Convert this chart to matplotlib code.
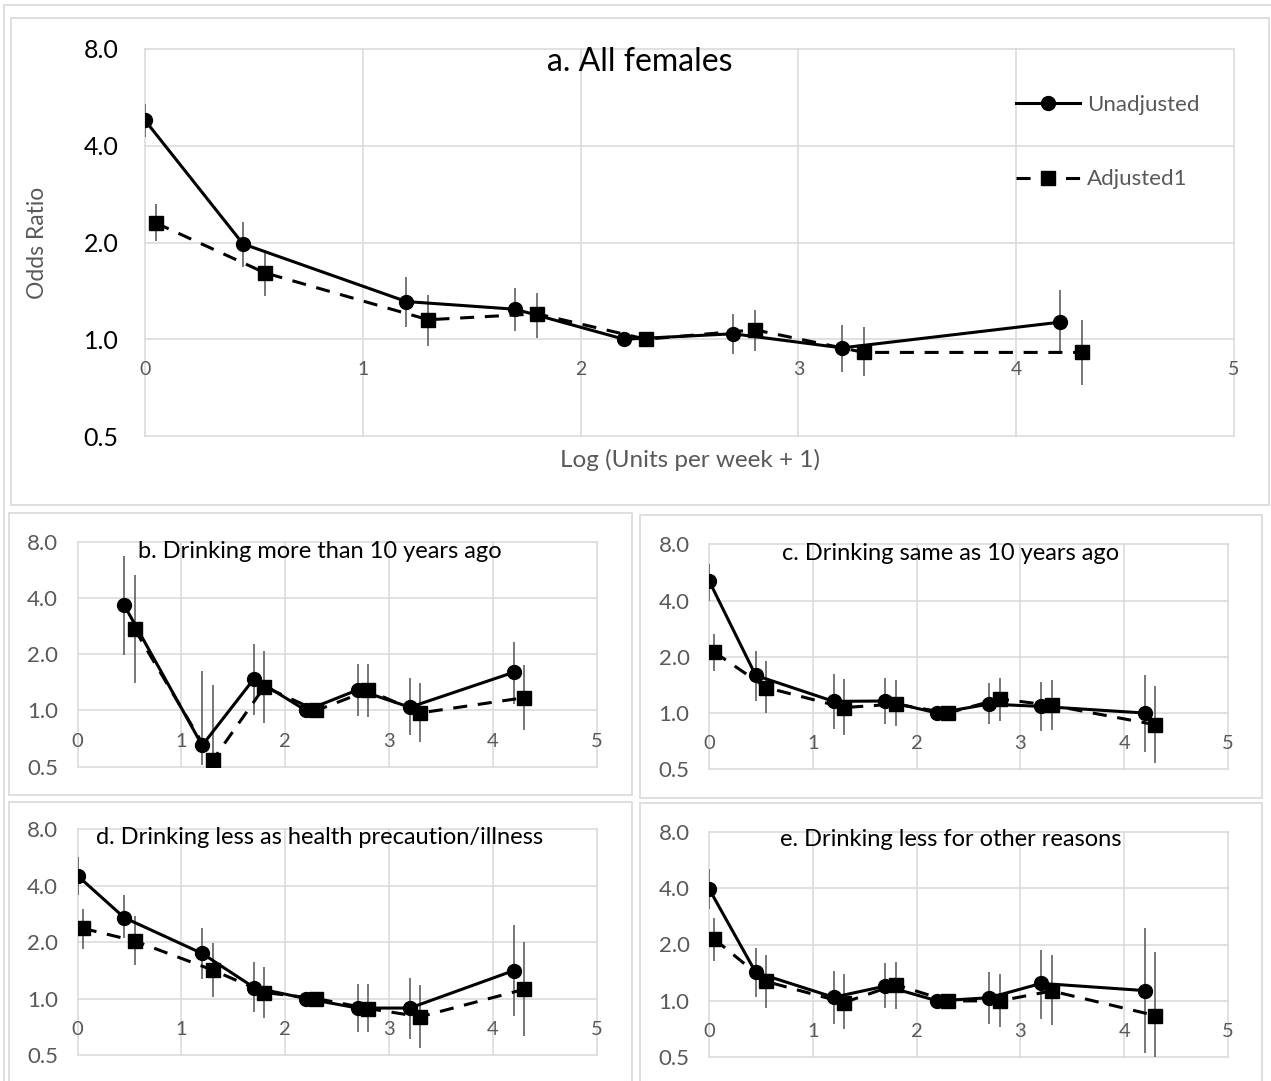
import numpy as np
import matplotlib
matplotlib.use("Agg")
import matplotlib.pyplot as plt
import matplotlib.ticker as mticker
from matplotlib.patches import Rectangle

plt.rcParams["font.family"] = ["Lato", "DejaVu Sans"]

W, H = 1271, 1081
GREY_TEXT = "#595959"
GRID = "#d9d9d9"
BAR = "#606060"

# x positions (log units per week + 1), adjusted series is offset a little
x_unadj = [0, 0.45, 1.2, 1.7, 2.2, 2.7, 3.2, 4.2]
x_adj = [0.05, 0.55, 1.3, 1.8, 2.3, 2.8, 3.3, 4.3]
y_ticks = [0.5, 1.0, 2.0, 4.0, 8.0]
x_ticks = [0, 1, 2, 3, 4, 5]

# a. All females
a_unadj = [4.8, 1.98, 1.31, 1.24, 1.0, 1.04, 0.94, 1.13]
a_unadj_lo = [4.27, 1.68, 1.09, 1.06, 1.0, 0.90, 0.79, 0.905]
a_unadj_hi = [5.4, 2.32, 1.56, 1.44, 1.0, 1.20, 1.11, 1.42]
a_adj = [2.30, 1.61, 1.15, 1.20, 1.0, 1.07, 0.91, 0.91]
a_adj_lo = [2.02, 1.36, 0.95, 1.01, 1.0, 0.92, 0.77, 0.72]
a_adj_hi = [2.64, 1.90, 1.37, 1.39, 1.0, 1.23, 1.09, 1.15]

# b. Drinking more than 10 years ago (no non-drinker point)
b_unadj = [np.nan, 3.65, 0.65, 1.48, 1.0, 1.29, 1.04, 1.60]
b_unadj_lo = [np.nan, 1.97, 0.51, 0.94, 1.0, 0.93, 0.735, 1.08]
b_unadj_hi = [np.nan, 6.67, 1.62, 2.27, 1.0, 1.78, 1.49, 2.33]
b_adj = [np.nan, 2.72, 0.54, 1.34, 1.0, 1.28, 0.97, 1.17]
b_adj_lo = [np.nan, 1.41, 0.45, 0.855, 1.0, 0.917, 0.68, 0.79]
b_adj_hi = [np.nan, 5.28, 1.36, 2.09, 1.0, 1.77, 1.40, 1.76]

# c. Drinking same as 10 years ago
c_unadj = [5.11, 1.59, 1.155, 1.16, 1.0, 1.117, 1.085, 1.0]
c_unadj_lo = [3.96, 1.16, 0.825, 0.873, 1.0, 0.873, 0.80, 0.62]
c_unadj_hi = [6.27, 2.16, 1.62, 1.54, 1.0, 1.45, 1.46, 1.60]
c_adj = [2.12, 1.37, 1.07, 1.117, 1.0, 1.19, 1.10, 0.866]
c_adj_lo = [1.67, 1.0, 0.765, 0.85, 1.0, 0.91, 0.81, 0.54]
c_adj_hi = [2.66, 1.90, 1.53, 1.51, 1.0, 1.54, 1.50, 1.39]

# d. Drinking less as health precaution/illness
d_unadj = [4.52, 2.70, 1.74, 1.145, 1.0, 0.89, 0.89, 1.41]
d_unadj_lo = [3.59, 2.11, 1.27, 0.85, 1.0, 0.66, 0.61, 0.81]
d_unadj_hi = [5.71, 3.57, 2.37, 1.56, 1.0, 1.2, 1.28, 2.47]
d_adj = [2.37, 2.03, 1.42, 1.077, 1.0, 0.885, 0.80, 1.12]
d_adj_lo = [1.83, 1.51, 1.02, 0.79, 1.0, 0.66, 0.545, 0.63]
d_adj_hi = [3.0, 2.77, 1.97, 1.48, 1.0, 1.2, 1.18, 2.0]

# e. Drinking less for other reasons
e_unadj = [3.97, 1.42, 1.046, 1.20, 1.0, 1.04, 1.24, 1.135]
e_unadj_lo = [3.10, 1.05, 0.75, 0.915, 1.0, 0.75, 0.80, 0.525]
e_unadj_hi = [5.08, 1.91, 1.45, 1.59, 1.0, 1.42, 1.86, 2.44]
e_adj = [2.14, 1.27, 0.98, 1.22, 1.0, 1.0, 1.13, 0.835]
e_adj_lo = [1.64, 0.92, 0.71, 0.906, 1.0, 0.73, 0.74, 0.45]
e_adj_hi = [2.77, 1.75, 1.39, 1.62, 1.0, 1.39, 1.75, 1.83]


def px_axes(x0, x1, y0, y1):
    # pixel box (top-left origin) -> figure fraction rect
    return [x0 / W, 1 - y1 / H, (x1 - x0) / W, (y1 - y0) / H]


def px_frame(fig, x0, y0, x1, y1):
    fig.add_artist(
        Rectangle(
            (x0 / W, 1 - y1 / H), (x1 - x0) / W, (y1 - y0) / H,
            transform=fig.transFigure, fill=False, edgecolor=GRID, lw=1.2,
        )
    )


def plot_series(ax, x, y, lo, hi, marker, dashed, label):
    y = np.array(y, dtype=float)
    err = [y - np.array(lo), np.array(hi) - y]
    ax.errorbar(x, y, yerr=err, fmt="none", ecolor=BAR, elinewidth=1.2, zorder=2)
    line, = ax.plot(
        x, y, color="black", lw=2.2, marker=marker, markersize=10,
        label=label, zorder=3,
    )
    if dashed:
        line.set_dashes((4.6, 3.5))
    return line


def style_axes(ax, ytick_size, ytick_colour, ypad, xtick_size):
    ax.set_yscale("log", base=2)
    ax.set_xlim(0, 5)
    ax.set_ylim(0.5, 8)
    ax.set_yticks(y_ticks)
    ax.yaxis.set_major_formatter(mticker.FormatStrFormatter("%.1f"))
    ax.yaxis.set_minor_locator(mticker.NullLocator())
    ax.set_xticks(x_ticks)
    # Excel style: category axis crosses at OR = 1
    ax.spines["bottom"].set_position(("data", 1.0))
    for s in ax.spines.values():
        s.set_visible(False)
    ax.tick_params(axis="y", length=0, pad=ypad, labelsize=ytick_size,
                   labelcolor=ytick_colour)
    ax.tick_params(axis="x", length=0, pad=16, labelsize=xtick_size,
                   labelcolor=GREY_TEXT)
    ax.grid(True, color=GRID, lw=1.1)
    ax.set_axisbelow(True)
    for gl in ax.get_xgridlines() + ax.get_ygridlines():
        gl.set_clip_on(False)


fig = plt.figure(figsize=(W / 100, H / 100), dpi=100)

# frames
px_frame(fig, 4, 5, 1290, 1100)
px_frame(fig, 11, 18, 1269, 505)
px_frame(fig, 9, 513, 632, 795)
px_frame(fig, 640, 515, 1262, 798)
px_frame(fig, 9, 802, 632, 1100)
px_frame(fig, 640, 803, 1262, 1100)

panels = [
    ("a. All females", px_axes(145, 1234, 49, 436), (640, 62), 23,
     a_unadj, a_unadj_lo, a_unadj_hi, a_adj, a_adj_lo, a_adj_hi),
    ("b. Drinking more than 10 years ago", px_axes(77.6, 596.7, 541.7, 766.7), (320, 551), 17,
     b_unadj, b_unadj_lo, b_unadj_hi, b_adj, b_adj_lo, b_adj_hi),
    ("c. Drinking same as 10 years ago", px_axes(709, 1228, 544.3, 769.3), (951, 553), 17,
     c_unadj, c_unadj_lo, c_unadj_hi, c_adj, c_adj_lo, c_adj_hi),
    ("d. Drinking less as health precaution/illness", px_axes(77.6, 596.7, 829.3, 1055), (320, 838), 17,
     d_unadj, d_unadj_lo, d_unadj_hi, d_adj, d_adj_lo, d_adj_hi),
    ("e. Drinking less for other reasons", px_axes(709, 1228, 831.7, 1057.3), (951, 840), 17,
     e_unadj, e_unadj_lo, e_unadj_hi, e_adj, e_adj_lo, e_adj_hi),
]

for i, (title, rect, tpos, tsize, u, ul, uh, a, al, ah) in enumerate(panels):
    ax = fig.add_axes(rect)
    if i == 0:
        style_axes(ax, 18, "black", 19, 14)
    else:
        style_axes(ax, 16, GREY_TEXT, 14, 14.5)
    plot_series(ax, x_unadj, u, ul, uh, "o", False, "Unadjusted")
    plot_series(ax, x_adj, a, al, ah, "s", True, "Adjusted1")
    fig.text(tpos[0] / W, 1 - tpos[1] / H, title, ha="center", va="center",
             fontsize=tsize, color="black")
    if i == 0:
        ax.legend(
            loc="upper left", bbox_to_anchor=(1016 / W, 1 - 95 / H),
            bbox_transform=fig.transFigure, frameon=False, fontsize=16,
            labelcolor=GREY_TEXT, handlelength=2.86, handletextpad=0.35,
            labelspacing=2.45, borderpad=0, borderaxespad=0, numpoints=1,
        )
        fig.text(38 / W, 1 - 243 / H, "Odds Ratio", rotation=90, ha="center",
                 va="center", fontsize=16.5, color=GREY_TEXT)
        fig.text(690 / W, 1 - 460 / H, "Log (Units per week + 1)", ha="center",
                 va="center", fontsize=17.5, color=GREY_TEXT)

fig.savefig("out.png", dpi=100)
